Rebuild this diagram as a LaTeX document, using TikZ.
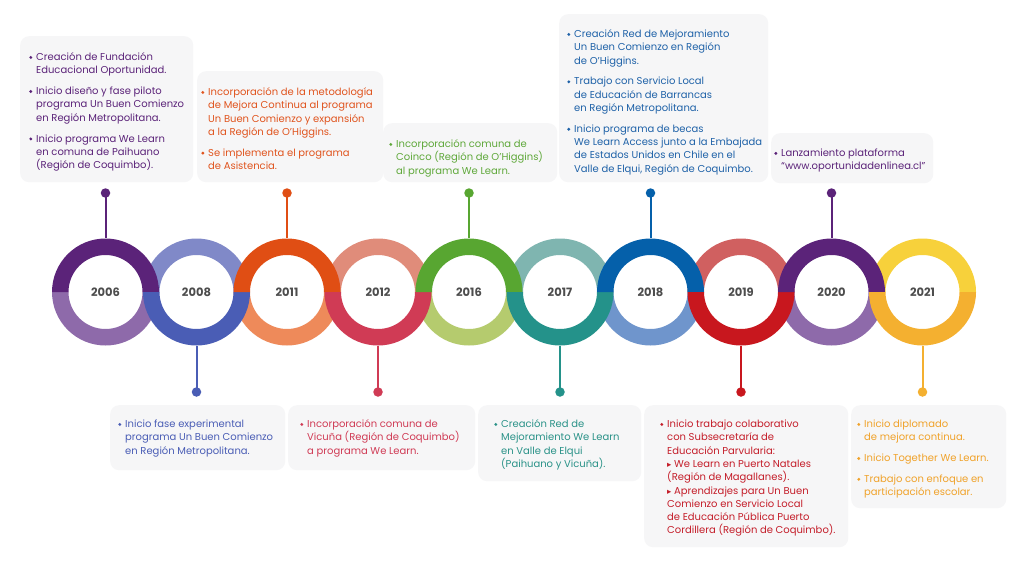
\documentclass[tikz,border=0pt]{standalone}
\usepackage{fontspec}
\setmainfont{Poppins}
\newfontfamily\symfont{DejaVu Sans}
\usepackage{graphicx}
\definecolor{boxbg}{HTML}{F6F6F7}
\definecolor{yeartxt}{HTML}{4D4D4D}
\definecolor{cA}{HTML}{5B2379}\definecolor{cAl}{HTML}{8E6AAA}
\definecolor{cB}{HTML}{4A5DB5}\definecolor{cBl}{HTML}{8089C8}
\definecolor{cC}{HTML}{E04E14}\definecolor{cCl}{HTML}{EE8A5A}
\definecolor{cD}{HTML}{D03B55}\definecolor{cDl}{HTML}{E08C7A}
\definecolor{cE}{HTML}{58A631}\definecolor{cEl}{HTML}{B5CB6E}
\definecolor{cF}{HTML}{24928A}\definecolor{cFl}{HTML}{7FB5B0}
\definecolor{cG}{HTML}{0560AA}\definecolor{cGl}{HTML}{6F95CC}
\definecolor{cH}{HTML}{C8171E}\definecolor{cHl}{HTML}{D06060}
\definecolor{cI}{HTML}{5B2379}\definecolor{cIl}{HTML}{8E6AAA}
\definecolor{cJ}{HTML}{F4B030}\definecolor{cJl}{HTML}{F7D13B}
\definecolor{tA}{HTML}{5B2379}
\definecolor{tB}{HTML}{4A5DB5}
\definecolor{tC}{HTML}{E0541E}
\definecolor{tD}{HTML}{D03B55}
\definecolor{tE}{HTML}{5FA83A}
\definecolor{tF}{HTML}{2A9288}
\definecolor{tG}{HTML}{1F62A8}
\definecolor{tH}{HTML}{C41E2A}
\definecolor{tI}{HTML}{5B2379}
\definecolor{tJ}{HTML}{F0A22A}
\newcommand{\bl}{\makebox[7pt][l]{\tikz[baseline=0pt]\fill (1.6pt,3.1pt) circle[radius=1.6pt];}}
\newcommand{\tri}{{\symfont\scalebox{0.85}{▸}}}
\newcommand{\itemgap}{\\[7.5pt]}
\newenvironment{blist}{\fontsize{10}{13.3}\selectfont\def\arraystretch{1}\begin{tabular}{@{}l@{}l@{}}}{\end{tabular}}
\newcommand{\tophalf}[2]{\fill[#2] (#1,292) ++(53.5pt,0) arc[start angle=0,end angle=180,radius=53.5pt] -- ++(16.5pt,0) arc[start angle=180,end angle=0,radius=37pt] -- cycle;}
\newcommand{\bothalf}[2]{\fill[#2] (#1,292) ++(-53.5pt,0) arc[start angle=180,end angle=360,radius=53.5pt] -- ++(-16.5pt,0) arc[start angle=0,end angle=-180,radius=37pt] -- cycle;}
\tikzset{
  box/.style={fill=boxbg, rounded corners=9pt, anchor=north west, inner sep=0pt},
  txt/.style={anchor=north west, inner sep=0pt, align=left},
  ring/.style={circle, minimum size=107pt, inner sep=0pt, text=yeartxt, font=\fontsize{11.5}{12}\selectfont\bfseries},
  dot/.style={circle, fill, minimum size=9.5pt, inner sep=0pt},
  conn/.style={line width=2pt}
}
\begin{document}
\begin{tikzpicture}[x=1pt,y=-1pt]
\useasboundingbox (0,0) rectangle (1024,562);
\fill[white] (0,0) rectangle (1024,562);

% boxes
\node[box, minimum width=173pt, minimum height=146pt] (b2006) at (20,36) {};
\node[box, minimum width=186pt, minimum height=111pt] (b2011) at (197,71) {};
\node[box, minimum width=174pt, minimum height=59pt] (b2016) at (383,123) {};
\node[box, minimum width=209pt, minimum height=168pt] (b2018) at (559,14) {};
\node[box, minimum width=162pt, minimum height=50pt] (b2020) at (771,133) {};
\node[box, minimum width=175pt, minimum height=65pt] (b2008) at (110,405) {};
\node[box, minimum width=187pt, minimum height=65pt] (b2012) at (288,405) {};
\node[box, minimum width=163pt, minimum height=76pt] (b2017) at (478,405) {};
\node[box, minimum width=204pt, minimum height=142pt] (b2019) at (644,405) {};
\node[box, minimum width=155pt, minimum height=103pt] (b2021) at (851,405) {};

% texts
\node[txt, text=tA] (t2006) at (29,51) {\begin{blist}
\bl & Creación de Fundación\\ & Educacional Oportunidad.\itemgap
\bl & Inicio diseño y fase piloto\\ & programa Un Buen Comienzo\\ & en Región Metropolitana.\itemgap
\bl & Inicio programa We Learn\\ & en comuna de Paihuano\\ & (Región de Coquimbo).
\end{blist}};
\node[txt, text=tC] (t2011) at (201,86) {\begin{blist}
\bl & Incorporación de la metodología\\ & de Mejora Continua al programa\\ & Un Buen Comienzo y expansión\\ & a la Región de O’Higgins.\itemgap
\bl & Se implementa el programa\\ & de Asistencia.
\end{blist}};
\node[txt, text=tE] (t2016) at (389,138) {\begin{blist}
\bl & Incorporación comuna de\\ & Coinco (Región de O’Higgins)\\ & al programa We Learn.
\end{blist}};
\node[txt, text=tG] (t2018) at (567,28) {\begin{blist}
\bl & Creación Red de Mejoramiento\\ & Un Buen Comienzo en Región\\ & de O’Higgins.\itemgap
\bl & Trabajo con Servicio Local\\ & de Educación de Barrancas\\ & en Región Metropolitana.\itemgap
\bl & Inicio programa de becas\\ & We Learn Access junto a la Embajada\\ & de Estados Unidos en Chile en el\\ & Valle de Elqui, Región de Coquimbo.
\end{blist}};
\node[txt, text=tI] (t2020) at (774,147) {\begin{blist}
\bl & Lanzamiento plataforma\\ & “www.oportunidadenlinea.cl”
\end{blist}};
\node[txt, text=tB] (t2008) at (118,418) {\begin{blist}
\bl & Inicio fase experimental\\ & programa Un Buen Comienzo\\ & en Región Metropolitana.
\end{blist}};
\node[txt, text=tD] (t2012) at (300,418) {\begin{blist}
\bl & Incorporación comuna de\\ & Vicuña (Región de Coquimbo)\\ & a programa We Learn.
\end{blist}};
\node[txt, text=tF] (t2017) at (494,418) {\begin{blist}
\bl & Creación Red de\\ & Mejoramiento We Learn\\ & en Valle de Elqui\\ & (Paihuano y Vicuña).
\end{blist}};
\node[txt, text=tH] (t2019) at (660,418) {\begin{blist}
\bl & Inicio trabajo colaborativo\\ & con Subsecretaría de\\ & Educación Parvularia:\\ & \tri{} We Learn en Puerto Natales\\ & (Región de Magallanes).\\ & \tri{} Aprendizajes para Un Buen\\ & Comienzo en Servicio Local\\ & de Educación Pública Puerto\\ & Cordillera (Región de Coquimbo).
\end{blist}};
\node[txt, text=tJ] (t2021) at (857,418) {\begin{blist}
\bl & Inicio diplomado\\ & de mejora continua.\itemgap
\bl & Inicio Together We Learn.\itemgap
\bl & Trabajo con enfoque en\\ & participación escolar.
\end{blist}};

% rings: light halves first
\bothalf{105.5}{cAl}
\tophalf{196.5}{cBl}
\bothalf{287}{cCl}
\tophalf{378}{cDl}
\bothalf{469}{cEl}
\tophalf{560}{cFl}
\bothalf{650.5}{cGl}
\tophalf{741}{cHl}
\bothalf{831.5}{cIl}
\tophalf{922.5}{cJl}
% dark halves
\tophalf{105.5}{cA}
\bothalf{196.5}{cB}
\tophalf{287}{cC}
\bothalf{378}{cD}
\tophalf{469}{cE}
\bothalf{560}{cF}
\tophalf{650.5}{cG}
\bothalf{741}{cH}
\tophalf{831.5}{cI}
\bothalf{922.5}{cJ}

% ring nodes with years
\node[ring] (r2006) at (105.5,292) {2006};
\node[ring] (r2008) at (196.5,292) {2008};
\node[ring] (r2011) at (287,292) {2011};
\node[ring] (r2012) at (378,292) {2012};
\node[ring] (r2016) at (469,292) {2016};
\node[ring] (r2017) at (560,292) {2017};
\node[ring] (r2018) at (650.5,292) {2018};
\node[ring] (r2019) at (741,292) {2019};
\node[ring] (r2020) at (831.5,292) {2020};
\node[ring] (r2021) at (922.5,292) {2021};

% dots
\node[dot, cA] (d2006) at (105.5,193) {};
\node[dot, cC] (d2011) at (287,193) {};
\node[dot, cE] (d2016) at (469,193) {};
\node[dot, cG] (d2018) at (650.5,193) {};
\node[dot, cI] (d2020) at (831.5,193) {};
\node[dot, cB] (d2008) at (196.5,392) {};
\node[dot, cD] (d2012) at (378,392) {};
\node[dot, cF] (d2017) at (560,392) {};
\node[dot, cH] (d2019) at (741,392) {};
\node[dot, cJ] (d2021) at (922.5,392) {};

% connectors
\draw[conn, cA] (d2006.center) -- (r2006.north);
\draw[conn, cC] (d2011.center) -- (r2011.north);
\draw[conn, cE] (d2016.center) -- (r2016.north);
\draw[conn, cG] (d2018.center) -- (r2018.north);
\draw[conn, cI] (d2020.center) -- (r2020.north);
\draw[conn, cB] (r2008.south) -- (d2008.center);
\draw[conn, cD] (r2012.south) -- (d2012.center);
\draw[conn, cF] (r2017.south) -- (d2017.center);
\draw[conn, cH] (r2019.south) -- (d2019.center);
\draw[conn, cJ] (r2021.south) -- (d2021.center);
\end{tikzpicture}
\end{document}
